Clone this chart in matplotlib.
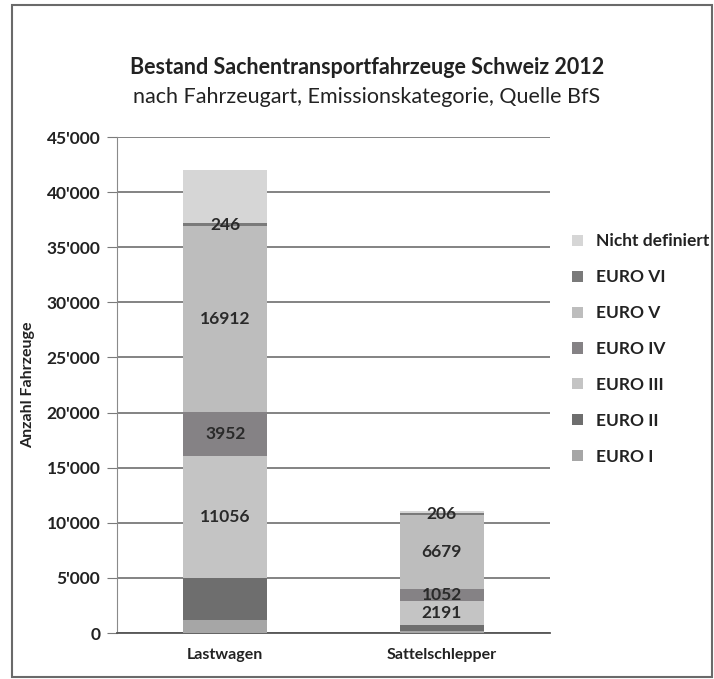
import matplotlib
matplotlib.use("Agg")
import matplotlib.pyplot as plt
from matplotlib.patches import Rectangle
from matplotlib.ticker import FuncFormatter, FixedLocator

plt.rcParams['font.family'] = ['Lato', 'DejaVu Sans']

categories = ["Lastwagen", "Sattelschlepper"]
series_names = ["EURO I", "EURO II", "EURO III", "EURO IV", "EURO V", "EURO VI", "Nicht definiert"]
values = {
    "EURO I": [1150, 150],
    "EURO II": [3850, 600],
    "EURO III": [11056, 2191],
    "EURO IV": [3952, 1052],
    "EURO V": [16912, 6679],
    "EURO VI": [246, 206],
    "Nicht definiert": [4800, 150],
}
labelled = ["EURO III", "EURO IV", "EURO V", "EURO VI"]
yticks = [0, 5000, 10000, 15000, 20000, 25000, 30000, 35000, 40000, 45000]

colors = {
    "EURO I": "#a6a6a6",
    "EURO II": "#6e6e6e",
    "EURO III": "#c4c4c4",
    "EURO IV": "#858285",
    "EURO V": "#bdbdbd",
    "EURO VI": "#7a7a7a",
    "Nicht definiert": "#d6d6d6",
}

fig = plt.figure(figsize=(7.14, 6.79), dpi=100)
fig.patches.append(Rectangle((12/714, 2/679), 700/714, 672/679, transform=fig.transFigure,
                             fill=False, edgecolor="#6a6a6a", linewidth=1.5))
ax = fig.add_axes([117/714, 1-633/679, 433/714, 496/679])

x = list(range(len(categories)))
bottoms = [0]*len(categories)
handles = []
for name in series_names:
    vals = values[name]
    b = ax.bar(x, vals, width=0.39, bottom=bottoms, color=colors[name], edgecolor="none",
               label=name, zorder=3)
    handles.append(b)
    if name in labelled:
        for xi, v, bt in zip(x, vals, bottoms):
            ax.text(xi, bt + v/2, f"{v}", ha="center", va="center", fontsize=12.5,
                    fontweight="bold", color="#2a2a2a", zorder=5)
    bottoms = [bt + v for bt, v in zip(bottoms, vals)]

ax.set_xlim(-0.5, 1.5)
ax.set_ylim(0, 45000)
ax.yaxis.set_major_locator(FixedLocator(yticks))
ax.yaxis.set_major_formatter(FuncFormatter(lambda v, p: "0" if v == 0 else f"{int(v):,}".replace(",", "'")))
ax.grid(axis="y", color="#7a7a7a", linewidth=1.3, zorder=0)
ax.set_axisbelow(True)
for s in ["top", "right"]:
    ax.spines[s].set_visible(False)
ax.spines["left"].set_color("#8a8a8a")
ax.spines["bottom"].set_color("#555555")
ax.spines["bottom"].set_linewidth(1.3)
ax.tick_params(axis="y", length=7, color="#7a7a7a", labelsize=12.5, pad=5, labelcolor="#222222")
ax.set_xticks(x)
ax.set_xticklabels(categories, fontsize=11.5, fontweight="bold", color="#222222")
ax.tick_params(axis="x", length=0, pad=11)
for lab in ax.get_yticklabels():
    lab.set_fontweight("bold")
ax.set_ylabel("Anzahl Fahrzeuge", fontsize=11.5, fontweight="bold", color="#222222", labelpad=8)

fig.text(367/714, 1-68/679, "Bestand Sachentransportfahrzeuge Schweiz 2012", ha="center", va="center",
         fontsize=15.5, fontweight="bold", color="#222222")
fig.text(367/714, 1-97/679, "nach Fahrzeugart, Emissionskategorie, Quelle BfS", ha="center", va="center",
         fontsize=15.5, color="#222222")

leg = ax.legend(handles[::-1], series_names[::-1], loc="upper left", bbox_to_anchor=(1.035, 0.82),
                frameon=False, fontsize=12.5, labelspacing=1.15, handlelength=0.6, handleheight=0.6,
                handletextpad=0.8, borderaxespad=0)
for t in leg.get_texts():
    t.set_fontweight("bold")
    t.set_color("#222222")

fig.savefig("out.png", dpi=100)
